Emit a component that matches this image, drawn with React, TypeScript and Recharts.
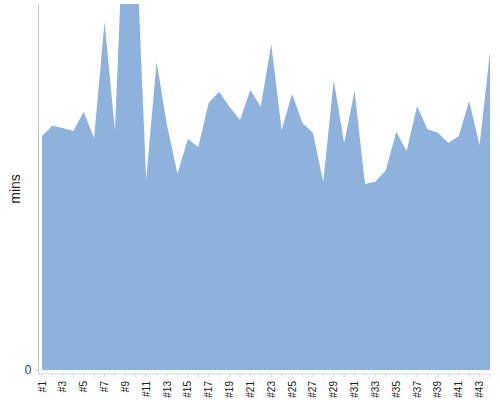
import { AreaChart, Area, XAxis, YAxis } from "recharts";

const RUNS = [
  "#1", "#2", "#3", "#4", "#5", "#6", "#7", "#8", "#9", "#10", "#11",
  "#12", "#13", "#14", "#15", "#16", "#17", "#18", "#19", "#20", "#21", "#22",
  "#23", "#24", "#25", "#26", "#27", "#28", "#29", "#30", "#31", "#32", "#33",
  "#34", "#35", "#36", "#37", "#38", "#39", "#40", "#41", "#42", "#43", "#44",
];

const MINS = [
  63.9, 66.7, 66.1, 65.3, 70.5, 63.4, 95.1, 65.6, 134, 120, 52.2,
  84.2, 66.9, 53.6, 63.1, 60.9, 73.0, 76.0, 71.9, 68.3, 76.5, 71.9,
  89.1, 65.6, 75.4, 67.5, 64.8, 51.4, 79.2, 62.0, 76.2, 50.8, 51.4,
  54.6, 65.0, 59.8, 72.1, 65.8, 64.8, 62.0, 63.9, 73.5, 61.5, 86.9,
];

const Y_TICKS = [0];

const data = RUNS.map((run, i) => ({ run, mins: MINS[i] }));

const RunTick = (props: any) => {
  const { x, y, payload, index } = props;
  if (index % 2 !== 0) return <g />;
  return (
    <text
      transform={`translate(${x},${y + 2}) rotate(-90)`}
      textAnchor="end"
      dy={3.5}
      fontSize={10}
      fill="#222"
    >
      {payload.value}
    </text>
  );
};

export default function App() {
  return (
    <div style={{ position: "absolute", left: 0, top: 0, fontFamily: "Liberation Sans, Arial, sans-serif" }}>
      <AreaChart width={500} height={400} data={data} margin={{ top: 4, right: 10, bottom: 0, left: 0 }}>
        <XAxis
          dataKey="run"
          interval={0}
          height={26}
          tickSize={3}
          tick={RunTick}
          padding={{ left: 3.5, right: 0 }}
          stroke="#d8d8d8"
        />
        <YAxis
          width={38.5}
          domain={[-1.1, 100]}
          allowDataOverflow
          ticks={Y_TICKS}
          tickSize={3}
          tickMargin={4}
          stroke="#c4c4c4"
          tick={{ fontSize: 12, fill: "#444" }}
          label={{
            content: ({ viewBox }: any) => (
              <text
                transform={`translate(${viewBox.x + 19.5},${viewBox.y + viewBox.height / 2}) rotate(-90)`}
                textAnchor="middle"
                fontSize={14}
                fill="#222"
              >
                mins
              </text>
            ),
          }}
        />
        <Area
          type="linear"
          dataKey="mins"
          fill="#8fb2dc"
          fillOpacity={1}
          stroke="none"
          isAnimationActive={false}
        />
      </AreaChart>
    </div>
  );
}
